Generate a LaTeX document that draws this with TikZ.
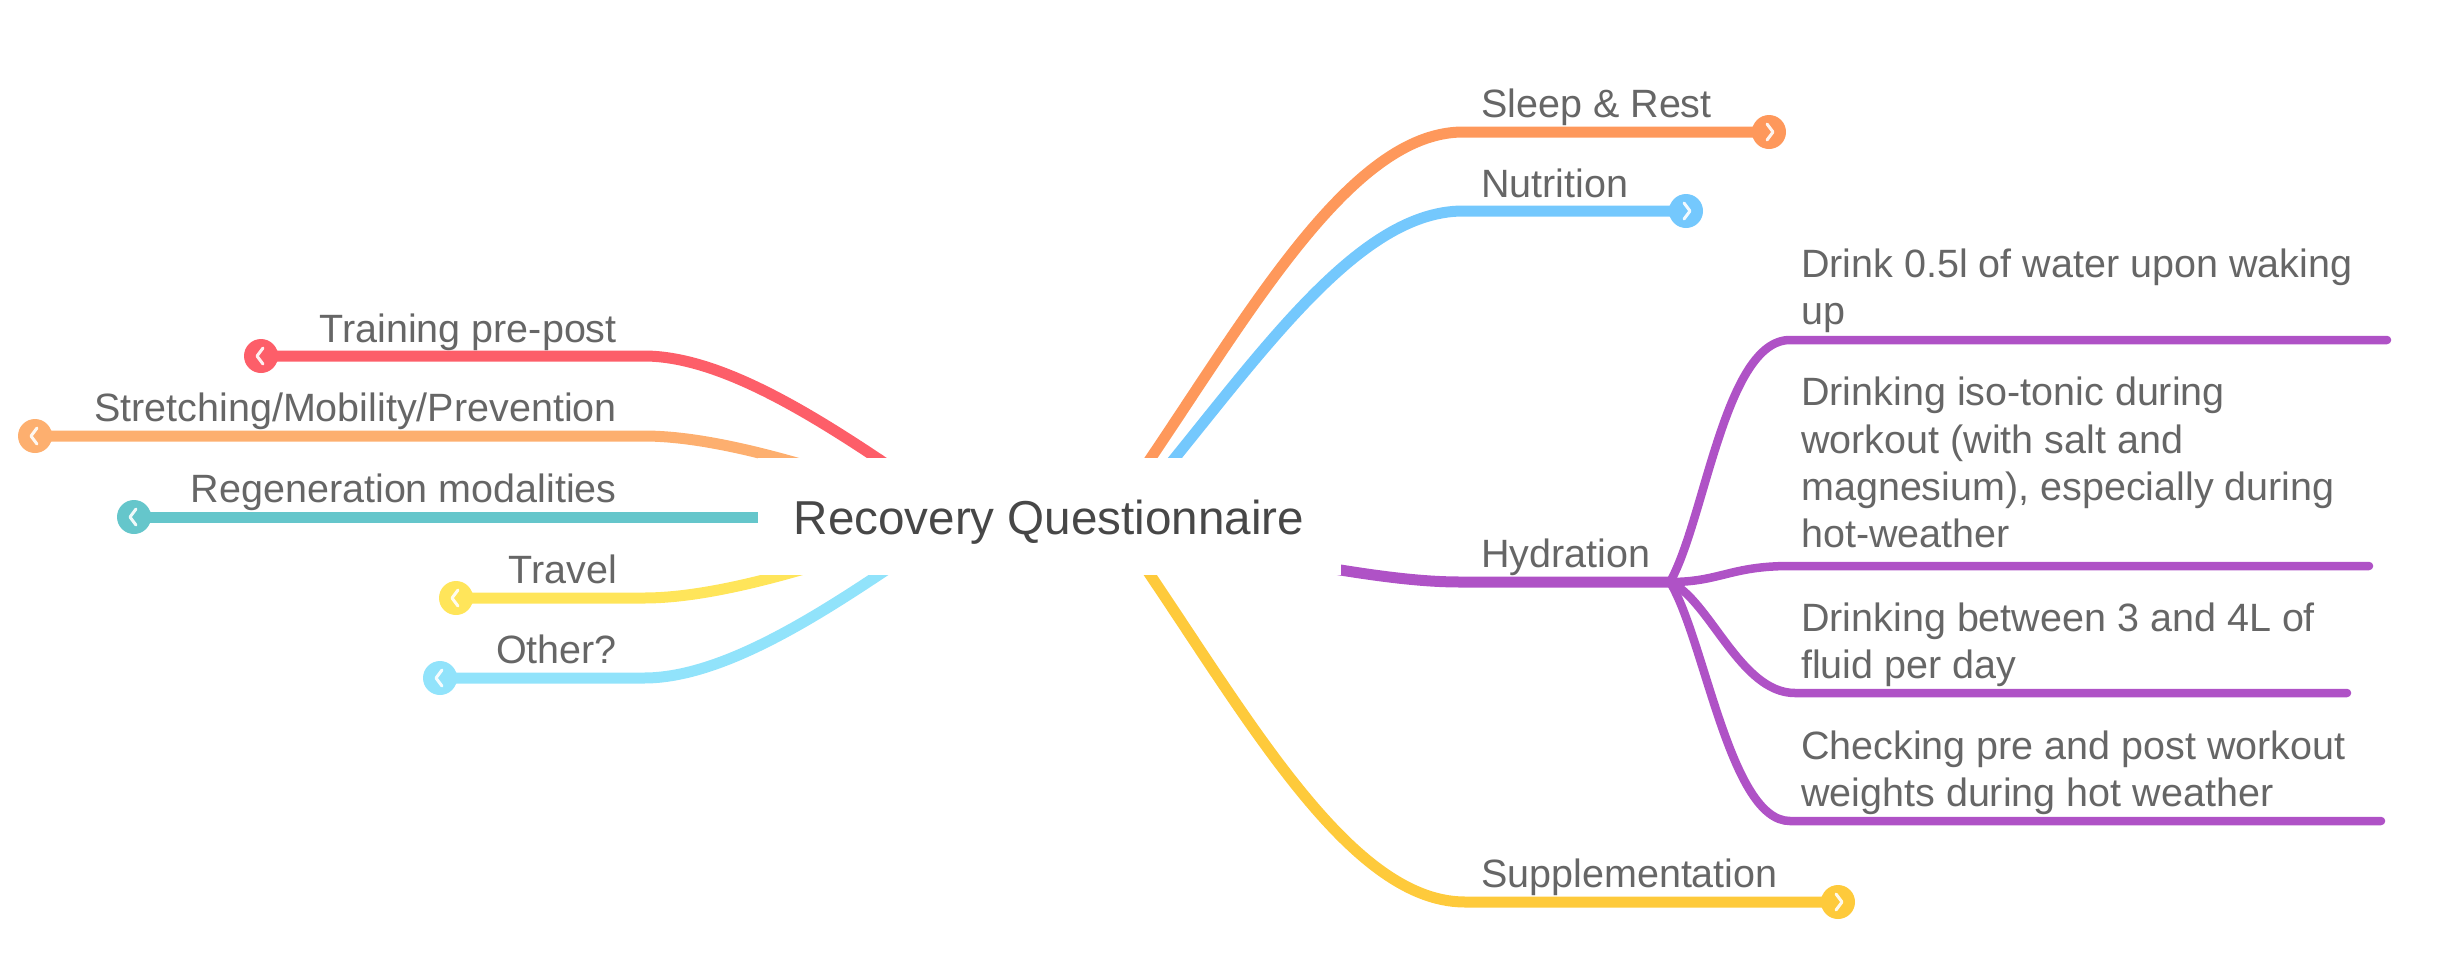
\documentclass[tikz,border=0pt]{standalone}
\usepackage{fontspec}
\setmainfont{Liberation Sans}
\usetikzlibrary{calc,backgrounds}
\definecolor{cTrain}{HTML}{FD5E69}
\definecolor{cStretch}{HTML}{FDAF6F}
\definecolor{cRegen}{HTML}{65C6CB}
\definecolor{cTravel}{HTML}{FFE55A}
\definecolor{cOther}{HTML}{91E3FB}
\definecolor{cSleep}{HTML}{FE985B}
\definecolor{cNutri}{HTML}{74C8FD}
\definecolor{cHyd}{HTML}{AF52C6}
\definecolor{cSupp}{HTML}{FECA3B}
\definecolor{cText}{HTML}{666666}
\definecolor{cMain}{HTML}{474747}
\newcommand\mmdot[4]{%
  \node[dotnode, fill=#3] (#1) at (#2) {};
  \fill[#3] ($(#1.center)+({(#4)*8},-12)$) -- ($(#1.center)+({(#4)*23},0)$) -- ($(#1.center)+({(#4)*8},12)$) -- cycle;
  \draw[chev] ($(#1.center)+({(#4)*2},-8)$) -- ($(#1.center)+({(#4)*(-4)},0)$) -- ($(#1.center)+({(#4)*2},8)$);
}
\begin{document}
\begin{tikzpicture}[x=1pt,y=-1pt,
  br/.style={line width=11pt, line cap=round},
  subbr/.style={line width=8.5pt, line cap=round, draw=cHyd},
  lbl/.style={inner sep=0pt, text=cText, font=\fontsize{39.5}{47.3}\selectfont},
  dotnode/.style={circle, minimum size=34pt, inner sep=0pt, draw=none},
  chev/.style={draw=white, draw opacity=0.9, line width=3pt, line cap=round, line join=round}]
\useasboundingbox (0,0) rectangle (2460,978);

% central topic
\node[fill=white, draw=none, minimum width=583pt, minimum height=117pt, inner sep=0pt,
      text height=44pt, text depth=9pt, text=cMain, font=\fontsize{47.6}{57}\selectfont]
  (root) at (1049,516.5) {Recovery Questionnaire};

% origins and elbows
\coordinate (oL) at (964,517);
\coordinate (oS) at (1110,517);
\coordinate (oN) at (1126,517);
\coordinate (oH) at (1250,555);
\coordinate (tE) at (644,356);
\coordinate (sE) at (644,436);
\coordinate (vE) at (644,598);
\coordinate (qE) at (644,678);
\coordinate (slE) at (1463,132);
\coordinate (nuE) at (1463,211);
\coordinate (suE) at (1465,902);
\coordinate (hyE) at (1460,582);
\coordinate (J) at (1670,582);
\coordinate (h1a) at (1790,340);
\coordinate (h1b) at (2387,340);
\coordinate (h2a) at (1790,566);
\coordinate (h2b) at (2369,566);
\coordinate (h3a) at (1795,693);
\coordinate (h3b) at (2347,693);
\coordinate (h4a) at (1790,821);
\coordinate (h4b) at (2381,821);

% end dots
\mmdot{tDot}{261,356}{cTrain}{1}
\mmdot{sDot}{35,436}{cStretch}{1}
\mmdot{rDot}{134,517}{cRegen}{1}
\mmdot{vDot}{456,598}{cTravel}{1}
\mmdot{qDot}{440,678}{cOther}{1}
\mmdot{slDot}{1769,132}{cSleep}{-1}
\mmdot{nuDot}{1686,211}{cNutri}{-1}
\mmdot{suDot}{1838,902}{cSupp}{-1}

% labels left
\node[lbl, anchor=base east] (tLbl) at (617,342) {Training pre-post};
\node[lbl, anchor=base east] (sLbl) at (617,421) {Stretching/Mobility/Prevention};
\node[lbl, anchor=base east] (rLbl) at (617,502) {Regeneration modalities};
\node[lbl, anchor=base east] (vLbl) at (617,583) {Travel};
\node[lbl, anchor=base east] (qLbl) at (617,663) {Other?};
% labels right
\node[lbl, anchor=base west] (slLbl) at (1481,117.5) {Sleep \& Rest};
\node[lbl, anchor=base west] (nuLbl) at (1481,197) {Nutrition};
\node[lbl, anchor=base west] (hyLbl) at (1481,567) {Hydration};
\node[lbl, anchor=base west] (suLbl) at (1481,887) {Supplementation};
\node[lbl, anchor=base west] (h1Lbl) at (1801,277) {\begin{tabular}[t]{@{}l@{}}Drink 0.5l of water upon waking\\up\end{tabular}};
\node[lbl, anchor=base west] (h2Lbl) at (1801,405.8) {\begin{tabular}[t]{@{}l@{}}Drinking iso-tonic during\\workout (with salt and\\magnesium), especially during\\hot-weather\end{tabular}};
\node[lbl, anchor=base west] (h3Lbl) at (1801,631) {\begin{tabular}[t]{@{}l@{}}Drinking between 3 and 4L of\\fluid per day\end{tabular}};
\node[lbl, anchor=base west] (h4Lbl) at (1801,759.5) {\begin{tabular}[t]{@{}l@{}}Checking pre and post workout\\weights during hot weather\end{tabular}};

\begin{pgfonlayer}{background}
  % left branches
  \draw[br, cTrain] (oL) .. controls (864,450) and (740,356) .. (tE) -- (tDot.center);
  \draw[br, cStretch] (oL) .. controls (880,490) and (740,436) .. (sE) -- (sDot.center);
  \draw[br, cRegen] (oL) -- (rDot.center);
  \draw[br, cTravel] (oL) .. controls (880,544) and (740,598) .. (vE) -- (vDot.center);
  \draw[br, cOther] (oL) .. controls (864,584) and (740,678) .. (qE) -- (qDot.center);
  % right branches
  \draw[br, cSleep] (oS) .. controls (1230,350) and (1340,132) .. (slE) -- (slDot.center);
  \draw[br, cNutri] (oN) .. controls (1246,377) and (1350,211) .. (nuE) -- (nuDot.center);
  \draw[br, cSupp] (oS) .. controls (1230,684) and (1340,902) .. (suE) -- (suDot.center);
  % hydration sub-branches
  \draw[subbr] (J) .. controls (1705,520) and (1725,340) .. (h1a) -- (h1b);
  \draw[subbr] (J) .. controls (1720,582) and (1730,566) .. (h2a) -- (h2b);
  \draw[subbr] (J) .. controls (1710,600) and (1740,693) .. (h3a) -- (h3b);
  \draw[subbr] (J) .. controls (1705,640) and (1730,821) .. (h4a) -- (h4b);
  \draw[br, cHyd] (oH) .. controls (1330,568) and (1400,582) .. (hyE) -- (J);
\end{pgfonlayer}
\end{tikzpicture}
\end{document}
